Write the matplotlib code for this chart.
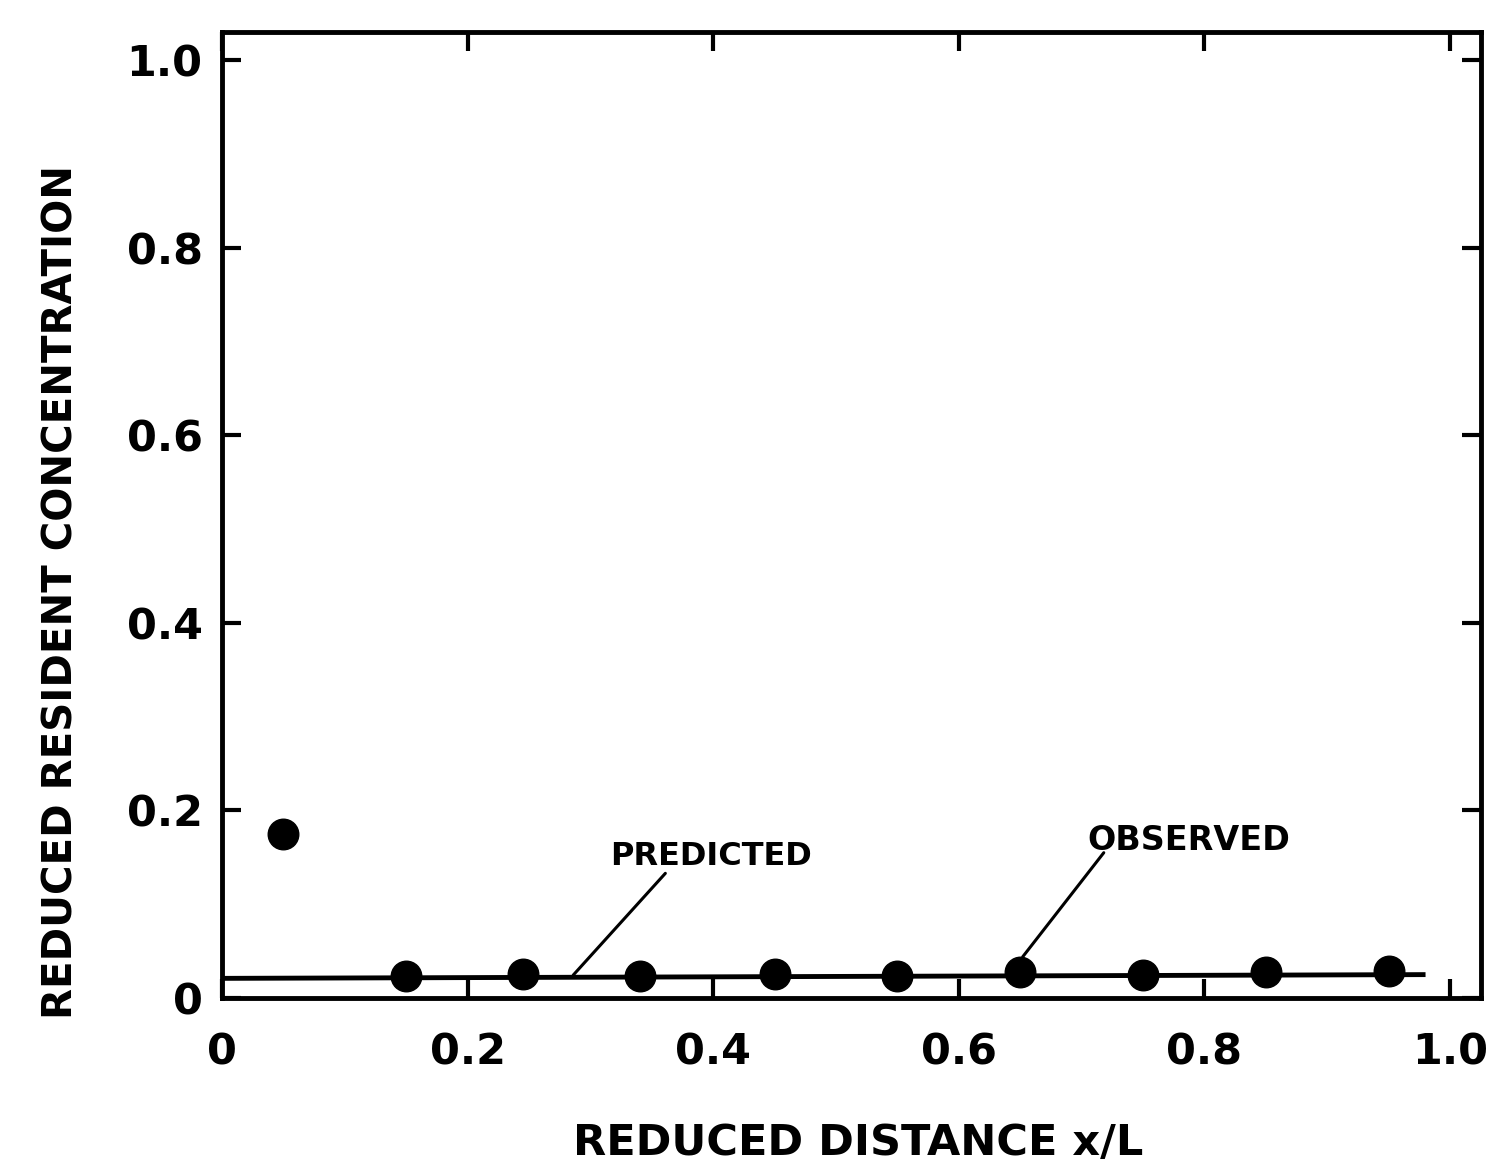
import matplotlib
matplotlib.use("Agg")
import matplotlib.pyplot as plt

# Observed points
obs_x = [0.05, 0.15, 0.245, 0.34, 0.45, 0.55, 0.65, 0.75, 0.85, 0.95]
obs_y = [0.175, 0.024, 0.026, 0.023, 0.026, 0.024, 0.028, 0.025, 0.028, 0.029]

# Predicted line
pred_x = [0.0, 0.98]
pred_y = [0.021, 0.025]

x_ticks = [0, 0.2, 0.4, 0.6, 0.8, 1.0]
x_ticklabels = ["0", "0.2", "0.4", "0.6", "0.8", "1.0"]
y_ticks = [0, 0.2, 0.4, 0.6, 0.8, 1.0]
y_ticklabels = ["0", "0.2", "0.4", "0.6", "0.8", "1.0"]

# annotation leaders: (text anchor, line end on data)
pred_label_xy = (0.316, 0.142)
pred_leader = [(0.361, 0.133), (0.286, 0.0245)]
obs_label_xy = (0.705, 0.158)
obs_leader = [(0.718, 0.155), (0.652, 0.044)]

plt.rcParams['font.family'] = ['DejaVu Sans']

fig = plt.figure(figsize=(14.95, 11.68), dpi=100)
ax = fig.add_axes([0.1485, 0.1455, 0.842, 0.827])

ax.plot(pred_x, pred_y, color='black', linewidth=3.5, solid_capstyle='butt')
ax.plot(obs_x, obs_y, 'o', color='black', markersize=22, linestyle='none')

# leader lines
for (start, end), label, pos, fs in [(pred_leader, "PREDICTED", pred_label_xy, 23),
                                     (obs_leader, "OBSERVED", obs_label_xy, 24)]:
    ax.annotate('', xy=end, xytext=start,
                arrowprops=dict(arrowstyle='-', color='black', linewidth=2.2,
                                shrinkA=0, shrinkB=0))
    ax.text(pos[0], pos[1], label, fontsize=fs, fontweight='bold',
            ha='left', va='baseline')

ax.set_xlim(0, 1.025)
ax.set_ylim(0, 1.03)
ax.set_xticks(x_ticks)
ax.set_xticklabels(x_ticklabels)
ax.set_yticks(y_ticks)
ax.set_yticklabels(y_ticklabels)

ax.tick_params(axis='both', which='both', direction='in', length=14, width=3,
               top=True, right=True, labelsize=31)
ax.tick_params(axis='x', pad=24)
ax.tick_params(axis='y', pad=14)
for lab in ax.get_xticklabels() + ax.get_yticklabels():
    lab.set_fontweight('bold')

for s in ax.spines.values():
    s.set_linewidth(3.5)

ax.set_xlabel('REDUCED DISTANCE x/L', fontsize=31, fontweight='bold')
ax.set_ylabel('REDUCED RESIDENT CONCENTRATION', fontsize=29, fontweight='bold')
ax.xaxis.set_label_coords(0.505, -0.128)
ax.yaxis.set_label_coords(-0.112, 0.42)

fig.savefig('out.png', dpi=100)
